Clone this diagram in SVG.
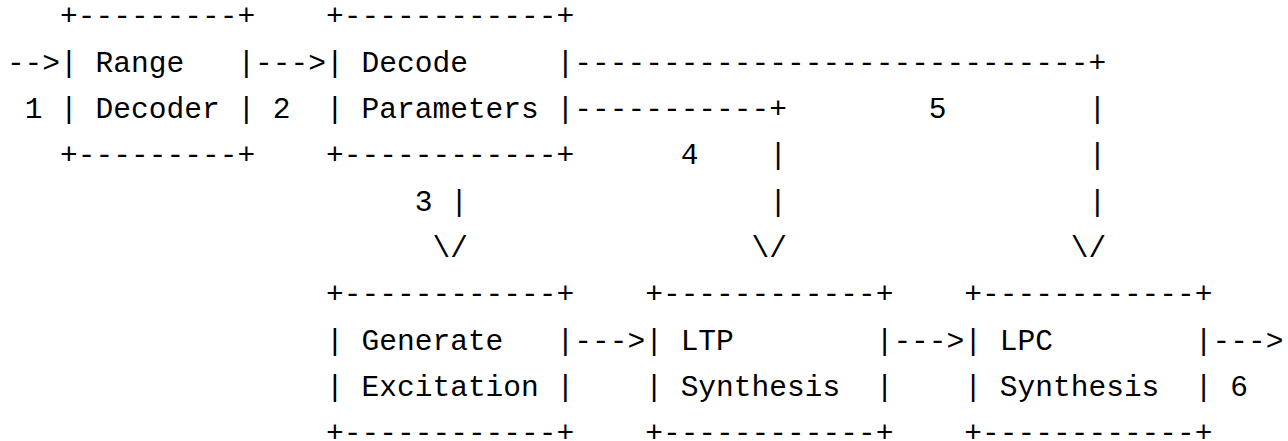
<svg xmlns="http://www.w3.org/2000/svg" width="1288" height="441" viewBox="0 0 1288 441" xml:space="preserve">
<style>
text { font-family: "Liberation Mono", "DejaVu Sans Mono", monospace; font-size: 29.55px; fill: #000; white-space: pre; }
</style>
<rect x="0" y="0" width="1288" height="441" fill="#fff"/>
<g id="range-decoder">
<text x="60.09" y="25.4">+---------+</text>
<text x="60.09" y="71.7">| Range   |</text>
<text x="60.09" y="118.0">| Decoder |</text>
<text x="60.09" y="164.3">+---------+</text>
</g>
<g id="decode-parameters">
<text x="326.04" y="25.4">+------------+</text>
<text x="326.04" y="71.7">| Decode     |</text>
<text x="326.04" y="118.0">| Parameters |</text>
<text x="326.04" y="164.3">+------------+</text>
</g>
<g id="generate-excitation">
<text x="326.04" y="303.2">+------------+</text>
<text x="326.04" y="349.5">| Generate   |</text>
<text x="326.04" y="395.8">| Excitation |</text>
<text x="326.04" y="442.1">+------------+</text>
</g>
<g id="ltp-synthesis">
<text x="645.18" y="303.2">+------------+</text>
<text x="645.18" y="349.5">| LTP        |</text>
<text x="645.18" y="395.8">| Synthesis  |</text>
<text x="645.18" y="442.1">+------------+</text>
</g>
<g id="lpc-synthesis">
<text x="964.32" y="303.2">+------------+</text>
<text x="964.32" y="349.5">| LPC        |</text>
<text x="964.32" y="395.8">| Synthesis  |</text>
<text x="964.32" y="442.1">+------------+</text>
</g>
<g id="connectors">
<text x="6.9" y="71.7">--&gt;</text>
<text x="255.12" y="71.7">---&gt;</text>
<text x="574.26" y="71.7">-----------------------------+</text>
<text x="24.63" y="118.0">1</text>
<text x="272.85" y="118.0">2</text>
<text x="574.26" y="118.0">-----------+</text>
<text x="928.86" y="118.0">5</text>
<text x="1088.43" y="118.0">|</text>
<text x="680.64" y="164.3">4</text>
<text x="769.29" y="164.3">|</text>
<text x="1088.43" y="164.3">|</text>
<text x="414.69" y="210.6">3 |</text>
<text x="769.29" y="210.6">|</text>
<text x="1088.43" y="210.6">|</text>
<text x="432.42" y="256.9">\/</text>
<text x="751.56" y="256.9">\/</text>
<text x="1070.70" y="256.9">\/</text>
<text x="574.26" y="349.5">---&gt;</text>
<text x="893.40" y="349.5">---&gt;</text>
<text x="1212.54" y="349.5">---&gt;</text>
<text x="1230.27" y="395.8">6</text>
</g>
</svg>
